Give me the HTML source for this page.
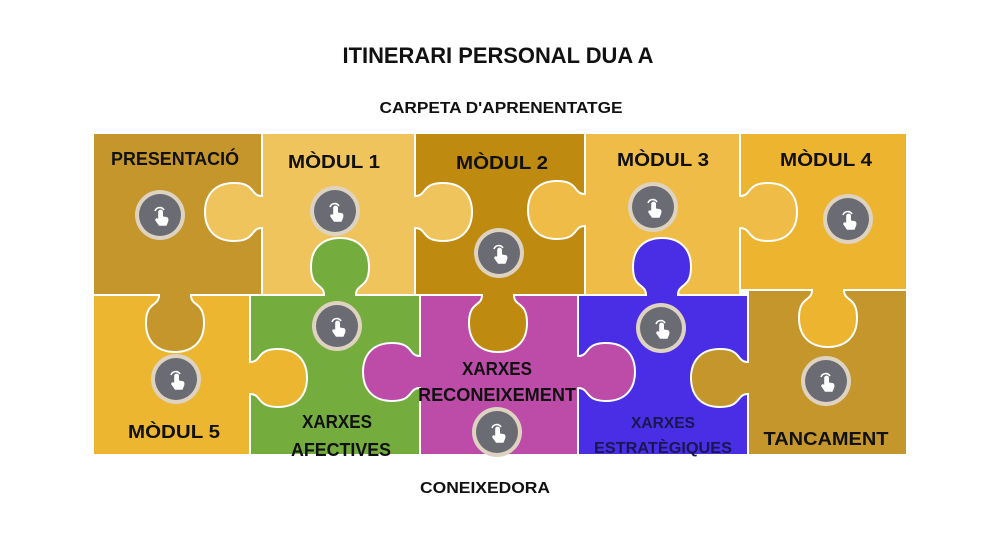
<!DOCTYPE html>
<html><head><meta charset="utf-8"><style>
html,body{margin:0;padding:0;background:#fff;width:1000px;height:550px;overflow:hidden}
text{font-family:"Liberation Sans",sans-serif;font-weight:bold;fill:#111;text-anchor:middle}
</style></head><body>
<svg width="1000" height="550" viewBox="0 0 1000 550" xmlns="http://www.w3.org/2000/svg">
<defs>
<path id="tab" d="M0,-16 C12,-16 6,-29 28,-29 C49,-29 57,-15 57,0 C57,15 49,29 28,29 C6,29 12,16 0,16 Z"/>
<g id="ic"><circle r="25" fill="#ddd3c0"/><circle r="21" fill="#6a6b73"/>
<path d="M-5,-4 a5,5 0 0 1 9,-1 M-1,8 L-1,-3 a1.6,1.6 0 0 1 3.2,0 L2.2,2 L7,3 Q8,4 7.5,6 L6,10 L-0.5,10 L-4,5 Q-4,3.5 -2,4.5 Z" fill="none" stroke="#fff" stroke-width="1.6" stroke-linejoin="round"/>
<path d="M-1,8 L-1,-3 a1.6,1.6 0 0 1 3.2,0 L2.2,2 L7,3 Q8,4 7.5,6 L6,10 L-0.5,10 L-4,5 Q-4,3.5 -2,4.5 Z" fill="#fff"/></g>
</defs>
<text x="498" y="63" font-size="22" textLength="311" lengthAdjust="spacingAndGlyphs">ITINERARI PERSONAL DUA A</text>
<text x="501" y="113" font-size="16" textLength="243" lengthAdjust="spacingAndGlyphs">CARPETA D'APRENENTATGE</text>
<text x="485" y="493" font-size="16" textLength="130" lengthAdjust="spacingAndGlyphs">CONEIXEDORA</text>
<g stroke="#fff" stroke-width="2">
<rect x="93" y="133" width="169" height="162" fill="#c4962c"/>
<rect x="262" y="133" width="153" height="162" fill="#f0c45c"/>
<rect x="415" y="133" width="170" height="162" fill="#bf8a10"/>
<rect x="585" y="133" width="155" height="162" fill="#f0bc48"/>
<rect x="740" y="133" width="167" height="157" fill="#edb430"/>
<rect x="93" y="295" width="157" height="160" fill="#edb630"/>
<rect x="250" y="295" width="170" height="160" fill="#74ac3e"/>
<rect x="420" y="295" width="158" height="160" fill="#bd4ba8"/>
<rect x="578" y="295" width="170" height="160" fill="#4a2ee6"/>
<rect x="748" y="290" width="159" height="165" fill="#c4962c"/>
</g>
<g stroke="#fff" stroke-width="2">
<g transform="translate(262,212) rotate(180)" fill="#f0c45c"><use href="#tab"/><rect x="-4" y="-15" width="6" height="30" stroke="none"/></g>
<g transform="translate(415,212)" fill="#f0c45c"><use href="#tab"/><rect x="-4" y="-15" width="6" height="30" stroke="none"/></g>
<g transform="translate(175,295) rotate(90)" fill="#c4962c"><use href="#tab"/><rect x="-4" y="-15" width="6" height="30" stroke="none"/></g>
<g transform="translate(340,295) rotate(-90)" fill="#74ac3e"><use href="#tab"/><rect x="-4" y="-15" width="6" height="30" stroke="none"/></g>
<g transform="translate(498,295) rotate(90)" fill="#bf8a10"><use href="#tab"/><rect x="-4" y="-15" width="6" height="30" stroke="none"/></g>
<g transform="translate(585,210) rotate(180)" fill="#f0bc48"><use href="#tab"/><rect x="-4" y="-15" width="6" height="30" stroke="none"/></g>
<g transform="translate(740,212)" fill="#f0bc48"><use href="#tab"/><rect x="-4" y="-15" width="6" height="30" stroke="none"/></g>
<g transform="translate(662,295) rotate(-90)" fill="#4a2ee6"><use href="#tab"/><rect x="-4" y="-15" width="6" height="30" stroke="none"/></g>
<g transform="translate(828,290) rotate(90)" fill="#edb430"><use href="#tab"/><rect x="-4" y="-15" width="6" height="30" stroke="none"/></g>
<g transform="translate(250,378)" fill="#edb630"><use href="#tab"/><rect x="-4" y="-15" width="6" height="30" stroke="none"/></g>
<g transform="translate(420,372) rotate(180)" fill="#bd4ba8"><use href="#tab"/><rect x="-4" y="-15" width="6" height="30" stroke="none"/></g>
<g transform="translate(578,372)" fill="#bd4ba8"><use href="#tab"/><rect x="-4" y="-15" width="6" height="30" stroke="none"/></g>
<g transform="translate(748,378) rotate(180)" fill="#c4962c"><use href="#tab"/><rect x="-4" y="-15" width="6" height="30" stroke="none"/></g>
</g>
<use href="#ic" x="160" y="215"/>
<use href="#ic" x="335" y="211"/>
<use href="#ic" x="499" y="253"/>
<use href="#ic" x="653" y="207"/>
<use href="#ic" x="848" y="219"/>
<use href="#ic" x="176" y="379"/>
<use href="#ic" x="337" y="326"/>
<use href="#ic" x="497" y="432"/>
<use href="#ic" x="661" y="328"/>
<use href="#ic" x="826" y="381"/>
<g font-size="18">
<text x="175" y="165" textLength="128" lengthAdjust="spacingAndGlyphs">PRESENTACIÓ</text>
<text x="334" y="168" textLength="92" lengthAdjust="spacingAndGlyphs">MÒDUL 1</text>
<text x="502" y="169" textLength="92" lengthAdjust="spacingAndGlyphs">MÒDUL 2</text>
<text x="663" y="166" textLength="92" lengthAdjust="spacingAndGlyphs">MÒDUL 3</text>
<text x="826" y="166" textLength="92" lengthAdjust="spacingAndGlyphs">MÒDUL 4</text>
<text x="174" y="438" textLength="92" lengthAdjust="spacingAndGlyphs">MÒDUL 5</text>
<text x="337" y="428" textLength="70" lengthAdjust="spacingAndGlyphs">XARXES</text>
<text x="341" y="456" textLength="100" lengthAdjust="spacingAndGlyphs">AFECTIVES</text>
<text x="497" y="375" textLength="70" lengthAdjust="spacingAndGlyphs">XARXES</text>
<text x="497" y="401" textLength="158" lengthAdjust="spacingAndGlyphs">RECONEIXEMENT</text>
<text x="663" y="428" font-size="16" style="fill:#1a1650" textLength="64" lengthAdjust="spacingAndGlyphs">XARXES</text>
<text x="663" y="453" font-size="16" style="fill:#1a1650" textLength="138" lengthAdjust="spacingAndGlyphs">ESTRATÈGIQUES</text>
<text x="826" y="445" textLength="125" lengthAdjust="spacingAndGlyphs">TANCAMENT</text>
</g>
</svg>
</body></html>
